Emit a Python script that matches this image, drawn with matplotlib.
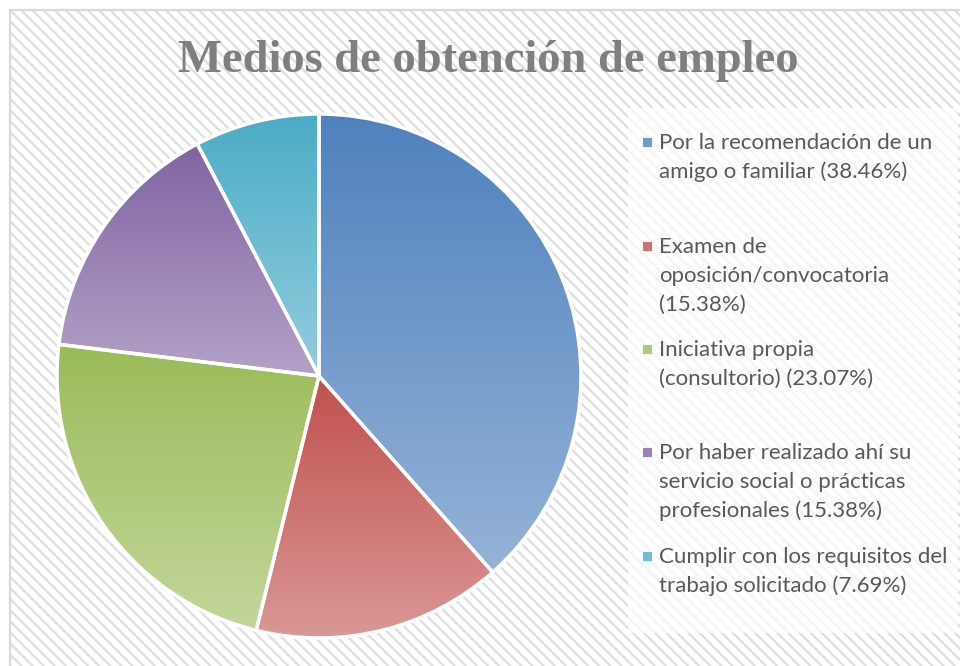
import numpy as np
import matplotlib
matplotlib.use("Agg")
from matplotlib import pyplot as plt
from matplotlib.patches import Rectangle, Wedge
from matplotlib.colors import to_rgb

title = "Medios de obtención de empleo"
labels = [
    "Por la recomendación de un\namigo o familiar (38.46%)",
    "Examen de\noposición/convocatoria\n(15.38%)",
    "Iniciativa propia\n(consultorio) (23.07%)",
    "Por haber realizado ahí su\nservicio social o prácticas\nprofesionales (15.38%)",
    "Cumplir con los requisitos del\ntrabajo solicitado (7.69%)",
]
values = [38.46, 15.38, 23.07, 15.38, 7.69]
top_colors = ["#4F81BD", "#C0504D", "#9BBB59", "#8064A2", "#4BACC6"]
bottom_colors = ["#95B3D7", "#DA9896", "#C3D69B", "#B3A2C7", "#93CDDD"]

W, H = 960, 666
plt.rcParams['hatch.linewidth'] = 1.6
fig = plt.figure(figsize=(W / 100, H / 100), dpi=100)


def fx(px):
    return px / W


def fy(py):
    return 1 - py / H


# striped background + border
bg = Rectangle((fx(10), 0), 1, fy(10), transform=fig.transFigure,
               facecolor="white", edgecolor="#DEDEDE", lw=0, hatch="\\\\\\", zorder=0)
fig.add_artist(bg)
fig.add_artist(plt.Line2D([fx(10), fx(10)], [0, fy(10)], transform=fig.transFigure,
                          color="#D9D9D9", lw=1.6, zorder=1))
fig.add_artist(plt.Line2D([fx(10), 1], [fy(10), fy(10)], transform=fig.transFigure,
                          color="#D9D9D9", lw=1.6, zorder=1))

# legend panel
fig.add_artist(Rectangle((fx(628), fy(633)), fx(958 - 628), (633 - 108) / H,
                         transform=fig.transFigure, facecolor="white", alpha=0.7,
                         lw=0, zorder=1))

fig.text(fx(488), fy(72), title, ha="center", va="baseline",
         fontsize=33.5, fontweight="bold", family="Liberation Serif", color="#7F7F7F")

# pie
cx, cy, r = 319, 376, 262
ax = fig.add_axes([fx(cx - r), fy(cy + r), 2 * r / W, 2 * r / H])
wedges, _ = ax.pie(values, startangle=90, counterclock=False, radius=1,
                   colors=top_colors, wedgeprops=dict(edgecolor="white", lw=2.5))
ax.set_aspect("equal")
ax.axis("off")

for w, c0, c1 in zip(wedges, top_colors, bottom_colors):
    ext = w.get_path().get_extents()
    t = np.linspace(0, 1, 256)[:, None]
    grad = (1 - t) * np.array(to_rgb(c0)) + t * np.array(to_rgb(c1))
    img = ax.imshow(grad[:, None, :].repeat(2, axis=1), extent=(ext.x0, ext.x1, ext.y0, ext.y1),
                    origin="upper", aspect="auto", interpolation="bilinear", zorder=2)
    img.set_clip_path(w)
    ax.add_patch(Wedge(w.center, w.r, w.theta1, w.theta2, facecolor="none",
                       edgecolor="white", lw=2.5, zorder=3))
ax.set_xlim(-1, 1)
ax.set_ylim(-1, 1)

# legend entries
baselines = [149, 253, 356, 459, 563]
for lab, b, c0, c1 in zip(labels, baselines, top_colors, bottom_colors):
    mid = 0.5 * (np.array(to_rgb(c0)) + np.array(to_rgb(c1)))
    fig.add_artist(Rectangle((fx(642), fy(b - 2)), fx(10), 10 / H, transform=fig.transFigure,
                             facecolor=mid, edgecolor="white", lw=0.6, zorder=3))
    for i, line in enumerate(lab.split("\n")):
        fig.text(fx(659), fy(b + 29 * i), line, ha="left", va="baseline",
                 fontsize=16, family="Lato", color="#595959")

fig.savefig("out.png", dpi=100)
